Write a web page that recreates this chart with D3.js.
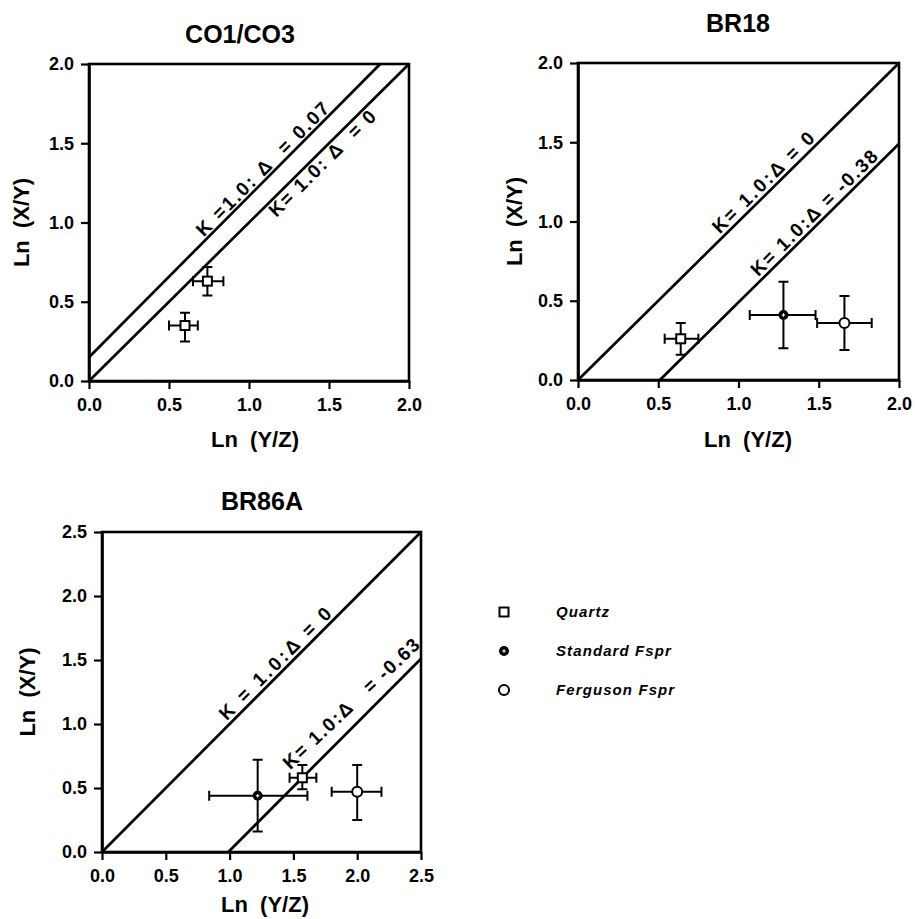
<!DOCTYPE html>
<html>
<head>
<meta charset="utf-8">
<script src="https://cdn.jsdelivr.net/npm/d3@7"></script>
<style>
  body { margin: 0; background: white; }
  text { font-family: "Liberation Sans", Arial, sans-serif; font-weight: bold; fill: black; }
</style>
</head>
<body>
<script>
// panel titles and axis ranges
var panelTitles = ["CO1/CO3", "BR18", "BR86A"];
var axisMax = [2.0, 2.0, 2.5];
var ticks2 = [0, 0.5, 1.0, 1.5, 2.0];
var ticks25 = [0, 0.5, 1.0, 1.5, 2.0, 2.5];

// reference lines (K = 1.0) per panel: endpoints in data units
var linesCO = [
  {x0: 0, y0: 0.15, x1: 1.82, y1: 2.0, label: "K =1.0: \u0394  = 0.07"},
  {x0: 0, y0: 0, x1: 2.0, y1: 2.0, label: "K= 1.0: \u0394  = 0"}
];
var linesBR18 = [
  {x0: 0, y0: 0, x1: 2.0, y1: 2.0, label: "K= 1.0:\u0394 = 0"},
  {x0: 0.51, y0: 0, x1: 2.0, y1: 1.49, label: "K= 1.0:\u0394 = -0.38"}
];
var linesBR86 = [
  {x0: 0, y0: 0, x1: 2.5, y1: 2.5, label: "K = 1.0:\u0394 = 0"},
  {x0: 0.99, y0: 0, x1: 2.5, y1: 1.51, label: "K= 1.0:\u0394   = -0.63"}
];

// data points with error ranges
var pointsCO = [
  {type: "quartz", x: 0.74, y: 0.63, xlo: 0.65, xhi: 0.84, ylo: 0.54, yhi: 0.72},
  {type: "quartz", x: 0.60, y: 0.35, xlo: 0.50, xhi: 0.68, ylo: 0.25, yhi: 0.43}
];
var pointsBR18 = [
  {type: "quartz", x: 0.64, y: 0.26, xlo: 0.54, xhi: 0.75, ylo: 0.16, yhi: 0.36},
  {type: "standard", x: 1.28, y: 0.41, xlo: 1.07, xhi: 1.48, ylo: 0.20, yhi: 0.62},
  {type: "ferguson", x: 1.66, y: 0.36, xlo: 1.49, xhi: 1.83, ylo: 0.19, yhi: 0.53}
];
var pointsBR86 = [
  {type: "quartz", x: 1.57, y: 0.58, xlo: 1.47, xhi: 1.68, ylo: 0.49, yhi: 0.68},
  {type: "standard", x: 1.22, y: 0.44, xlo: 0.84, xhi: 1.61, ylo: 0.16, yhi: 0.72},
  {type: "ferguson", x: 2.00, y: 0.47, xlo: 1.80, xhi: 2.19, ylo: 0.25, yhi: 0.68}
];

var legendLabels = ["Quartz", "Standard Fspr", "Ferguson Fspr"];
var legendTypes = ["quartz", "standard", "ferguson"];

var svg = d3.select("body").append("svg")
  .attr("width", 915)
  .attr("height", 919);

function drawMarker(g, type, cx, cy) {
  if (type == "quartz") {
    g.append("rect")
      .attr("x", cx - 4.5).attr("y", cy - 4.5)
      .attr("width", 9).attr("height", 9)
      .attr("fill", "white").attr("stroke", "black").attr("stroke-width", 2);
  } else if (type == "standard") {
    g.append("circle").attr("cx", cx).attr("cy", cy).attr("r", 5).attr("fill", "black");
    g.append("path")
      .attr("d", "M" + (cx - 1.8) + "," + cy + "H" + (cx + 1.8) + "M" + cx + "," + (cy - 1.8) + "V" + (cy + 1.8))
      .attr("stroke", "white").attr("stroke-width", 1.1);
  } else {
    g.append("circle").attr("cx", cx).attr("cy", cy).attr("r", 5)
      .attr("fill", "white").attr("stroke", "black").attr("stroke-width", 2);
  }
}

function drawPanel(p) {
  var max = axisMax[p.i];
  var ticks = max == 2.5 ? ticks25 : ticks2;
  var x = d3.scaleLinear().domain([0, max]).range([p.left, p.left + p.w]);
  var y = d3.scaleLinear().domain([0, max]).range([p.top + p.h, p.top]);
  var g = svg.append("g");

  // title
  g.append("text").attr("x", p.titleX).attr("y", p.titleY)
    .attr("text-anchor", "middle").style("font-size", "25px")
    .text(panelTitles[p.i]);

  // frame
  g.append("rect")
    .attr("x", p.left).attr("y", p.top).attr("width", p.w).attr("height", p.h)
    .attr("fill", "none").attr("stroke", "black").attr("stroke-width", 2.6);

  var xAxis = g.append("g")
    .attr("transform", "translate(0," + (p.top + p.h) + ")")
    .call(d3.axisBottom(x).tickValues(ticks).tickFormat(d3.format(".1f"))
      .tickSize(8).tickSizeOuter(0).tickPadding(9));
  var yAxis = g.append("g")
    .attr("transform", "translate(" + p.left + ",0)")
    .call(d3.axisLeft(y).tickValues(ticks).tickFormat(d3.format(".1f"))
      .tickSize(8).tickSizeOuter(0).tickPadding(7));
  [xAxis, yAxis].forEach(a => {
    a.select(".domain").attr("stroke-width", 2.6);
    a.selectAll(".tick line").attr("stroke-width", 2.2);
    a.selectAll(".tick text").style("font-size", "18px").style("font-family", "Liberation Sans, Arial, sans-serif");
  });

  // axis titles
  g.append("text").attr("x", p.xLabelX).attr("y", p.xLabelY)
    .attr("text-anchor", "middle").style("font-size", "22px").style("white-space", "pre")
    .text("Ln  (Y/Z)");
  g.append("text")
    .attr("transform", "translate(" + p.yLabelX + "," + (p.top + p.h / 2) + ") rotate(-90)")
    .attr("text-anchor", "middle").style("font-size", "22px").style("white-space", "pre")
    .text("Ln  (X/Y)");

  // reference lines with their rotated labels
  p.lines.forEach((ln, k) => {
    g.append("line")
      .attr("x1", x(ln.x0)).attr("y1", y(ln.y0))
      .attr("x2", x(ln.x1)).attr("y2", y(ln.y1))
      .attr("stroke", "black").attr("stroke-width", 2.7);
    var lab = p.labels[k];
    var ax = x(ln.x1) - x(ln.x0), ay = y(ln.y1) - y(ln.y0);
    var a = Math.atan2(ay, ax) + (lab.tilt || 0);
    var slope = (ln.y1 - ln.y0) / (ln.x1 - ln.x0);
    var px = x(lab.along), py = y(ln.y0 + (lab.along - ln.x0) * slope);
    var nx = Math.sin(a), ny = -Math.cos(a);
    g.append("text")
      .attr("transform", "translate(" + (px + nx * lab.off) + "," + (py + ny * lab.off) + ") rotate(" + (a * 180 / Math.PI) + ")")
      .style("font-size", "19px").style("white-space", "pre")
      .attr("textLength", lab.len).attr("lengthAdjust", "spacing")
      .text(ln.label);
  });

  // error bars and markers
  p.points.forEach(d => {
    var eg = g.append("g").attr("stroke", "black").attr("stroke-width", 2).attr("fill", "none");
    var cap = 5;
    eg.append("path").attr("d",
      "M" + x(d.xlo) + "," + y(d.y) + "H" + x(d.xhi) +
      "M" + x(d.xlo) + "," + (y(d.y) - cap) + "V" + (y(d.y) + cap) +
      "M" + x(d.xhi) + "," + (y(d.y) - cap) + "V" + (y(d.y) + cap) +
      "M" + x(d.x) + "," + y(d.ylo) + "V" + y(d.yhi) +
      "M" + (x(d.x) - cap) + "," + y(d.ylo) + "H" + (x(d.x) + cap) +
      "M" + (x(d.x) - cap) + "," + y(d.yhi) + "H" + (x(d.x) + cap));
    drawMarker(g, d.type, x(d.x), y(d.y));
  });
}

drawPanel({i: 0, left: 89, top: 64, w: 320, h: 317, titleX: 240, titleY: 43,
  xLabelX: 255, xLabelY: 447, yLabelX: 29, lines: linesCO, points: pointsCO,
  labels: [{along: 0.73, off: 3, len: 180}, {along: 1.10, off: -16, len: 142}]});
drawPanel({i: 1, left: 578, top: 63, w: 321, h: 317, titleX: 738, titleY: 32,
  xLabelX: 748, xLabelY: 447, yLabelX: 522, lines: linesBR18, points: pointsBR18,
  labels: [{along: 0.90, off: 4, len: 135}, {along: 1.14, off: 4, len: 170}]});
drawPanel({i: 2, left: 102, top: 532, w: 319, h: 320, titleX: 262, titleY: 510,
  xLabelX: 265, xLabelY: 912, yLabelX: 35, lines: linesBR86, points: pointsBR86,
  labels: [{along: 1.0, off: 4, len: 150}, {along: 1.55, off: 14, len: 180, tilt: 0.03}]});

// legend
var leg = svg.append("g");
legendLabels.forEach((t, k) => {
  var ly = 612 + k * 39;
  drawMarker(leg, legendTypes[k], 504, ly);
  leg.append("text").attr("x", 556).attr("y", ly + 5)
    .style("font-size", "15px").style("font-style", "italic").style("letter-spacing", "1.1px")
    .text(t);
});
</script>
</body>
</html>
